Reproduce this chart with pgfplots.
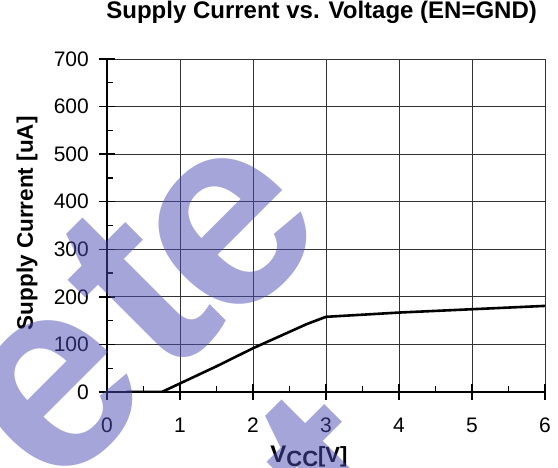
\documentclass[border=0pt]{standalone}
\usepackage{pgfplots}
\pgfplotsset{compat=1.18}
\usepackage{fontspec}
\setmainfont{Liberation Sans}
\definecolor{wm}{RGB}{75,75,180}
\begin{document}
\begin{tikzpicture}
\useasboundingbox (-107pt,-75pt) rectangle (451pt,392pt);
\begin{axis}[
  at={(0pt,0pt)}, anchor=south west, scale only axis,
  width=438pt, height=333pt,
  xmin=0, xmax=6, ymin=0, ymax=700,
  xtick={0,1,2,3,4,5,6}, ytick={0,100,200,300,400,500,600,700},
  minor xtick={0.5,1.5,2.5,3.5,4.5,5.5},
  minor ytick={50,150,250,350,450,550,650},
  axis x line=bottom, axis y line=left,
  axis line style={-, line width=2pt, black},
  grid=major, major grid style={black!80, line width=0.8pt},
  tick align=inside, major tick length=8pt, minor tick length=6pt,
  tick style={black, line width=1.4pt},
  extra x ticks={0,1,2,3,4,5,6}, extra x tick labels={},
  extra x tick style={tick align=outside, grid=none},
  extra y ticks={0,100,200,300,400,500,600,700}, extra y tick labels={},
  extra y tick style={tick align=outside, grid=none},
  /pgf/number format/assume math mode=true,
  xticklabel style={anchor=north, inner sep=0pt, yshift=-26pt, font=\fontsize{21}{24}\selectfont},
  yticklabel style={anchor=east, inner sep=0pt, xshift=-18pt, font=\fontsize{21}{24}\selectfont},
  title={Supply Current vs. Voltage (EN=GND)},
  title style={at={(axis description cs:0.49,1)}, anchor=base, yshift=35pt, inner sep=0pt, font=\fontsize{24}{28}\selectfont\bfseries},
  ylabel={Supply Current [uA]},
  ylabel style={at={(axis description cs:0,0.507)}, anchor=base, yshift=74pt, inner sep=0pt, font=\fontsize{22.5}{26}\selectfont\bfseries},
  xlabel={{\fontsize{24}{28}\selectfont V}\raisebox{-4pt}{\fontsize{22}{26}\selectfont CC}[V]},
  xlabel style={at={(axis description cs:0.461,0)}, anchor=base, yshift=-70pt, inner sep=0pt, font=\fontsize{22}{26}\selectfont\bfseries},
]
\addplot[black, line width=2.6pt, line join=round] coordinates {
(0.27,0) (0.75,0) (1,18) (1.5,54) (2,92) (2.74,143) (3,158) (4,167) (5,174) (6,181)
};
\end{axis}
\begin{scope}
\clip (-107pt,-75pt) rectangle (451pt,392pt);
\begin{scope}[every node/.style={rotate=45, inner sep=0pt, text=wm, text opacity=0.5, font=\fontsize{270}{270}\selectfont\bfseries}]
\node at (-50pt,-2pt) {e};
\node at (30pt,102pt) {t};
\node at (124pt,160pt) {e};
\node at (229pt,-80pt) {t};
\end{scope}
\end{scope}
\end{tikzpicture}
\end{document}
